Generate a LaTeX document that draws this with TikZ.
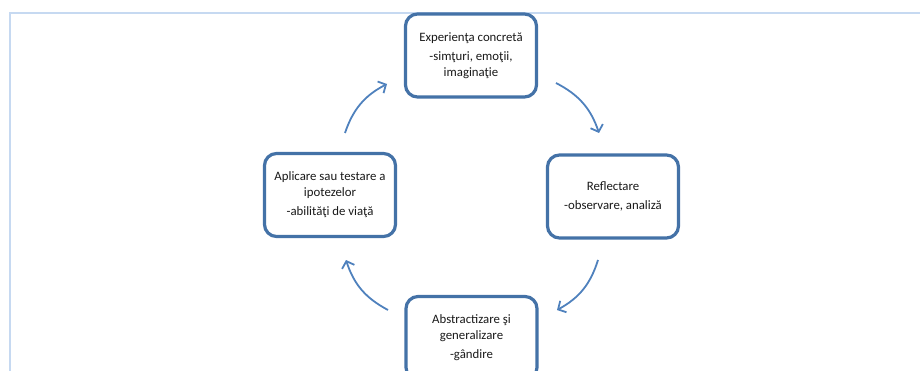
\documentclass[tikz,border=0pt]{standalone}
\usepackage{fontspec}
\setmainfont{Carlito}
\usetikzlibrary{arrows.meta}
\definecolor{boxblue}{RGB}{68,114,167}
\definecolor{arrowblue}{RGB}{79,129,189}
\definecolor{frameblue}{RGB}{198,217,241}
\begin{document}
\begin{tikzpicture}[x=1pt,y=-1pt,
    stage/.style={draw=boxblue, line width=3.2pt, rounded corners=12pt, fill=white,
        minimum width=131pt, minimum height=83pt, align=center,
        font=\fontsize{12.8}{15.5}\selectfont, text=black!90},
    cyclearrow/.style={draw=arrowblue, line width=1.8pt,
        -{Straight Barb[length=6pt,width=13pt]}, bend left=22}]
    \clip (0,0) rectangle (920,371);

    % Page frame
    \draw[frameblue, line width=2pt] (10,375) -- (10,13) -- (925,13);

    % Stages of the cycle
    \node[stage] (concret) at (471,55.5) {Experienţa concretă\\[4pt]-simţuri, emoţii,\\imaginaţie};
    \node[stage] (reflect) at (613,196.5) {Reflectare\\[4pt]-observare, analiză};
    \node[stage] (abstract) at (471.5,338) {Abstractizare şi\\generalizare\\[4pt]-gândire};
    \node[stage] (aplic) at (330,195) {Aplicare sau testare a\\ipotezelor\\[4pt]-abilităţi de viaţă};

    % Arrow ends
    \coordinate (ac-s) at (345,133);
    \coordinate (ac-e) at (387,84);
    \coordinate (cr-s) at (556,83);
    \coordinate (cr-e) at (599,133);
    \coordinate (ra-s) at (598,260);
    \coordinate (ra-e) at (557,310);
    \coordinate (aa-s) at (388,310);
    \coordinate (aa-e) at (346,260);

    % Arrows
    \draw[cyclearrow] (ac-s) to (ac-e);
    \draw[cyclearrow] (cr-s) to (cr-e);
    \draw[cyclearrow] (ra-s) to (ra-e);
    \draw[cyclearrow] (aa-s) to (aa-e);
\end{tikzpicture}
\end{document}
